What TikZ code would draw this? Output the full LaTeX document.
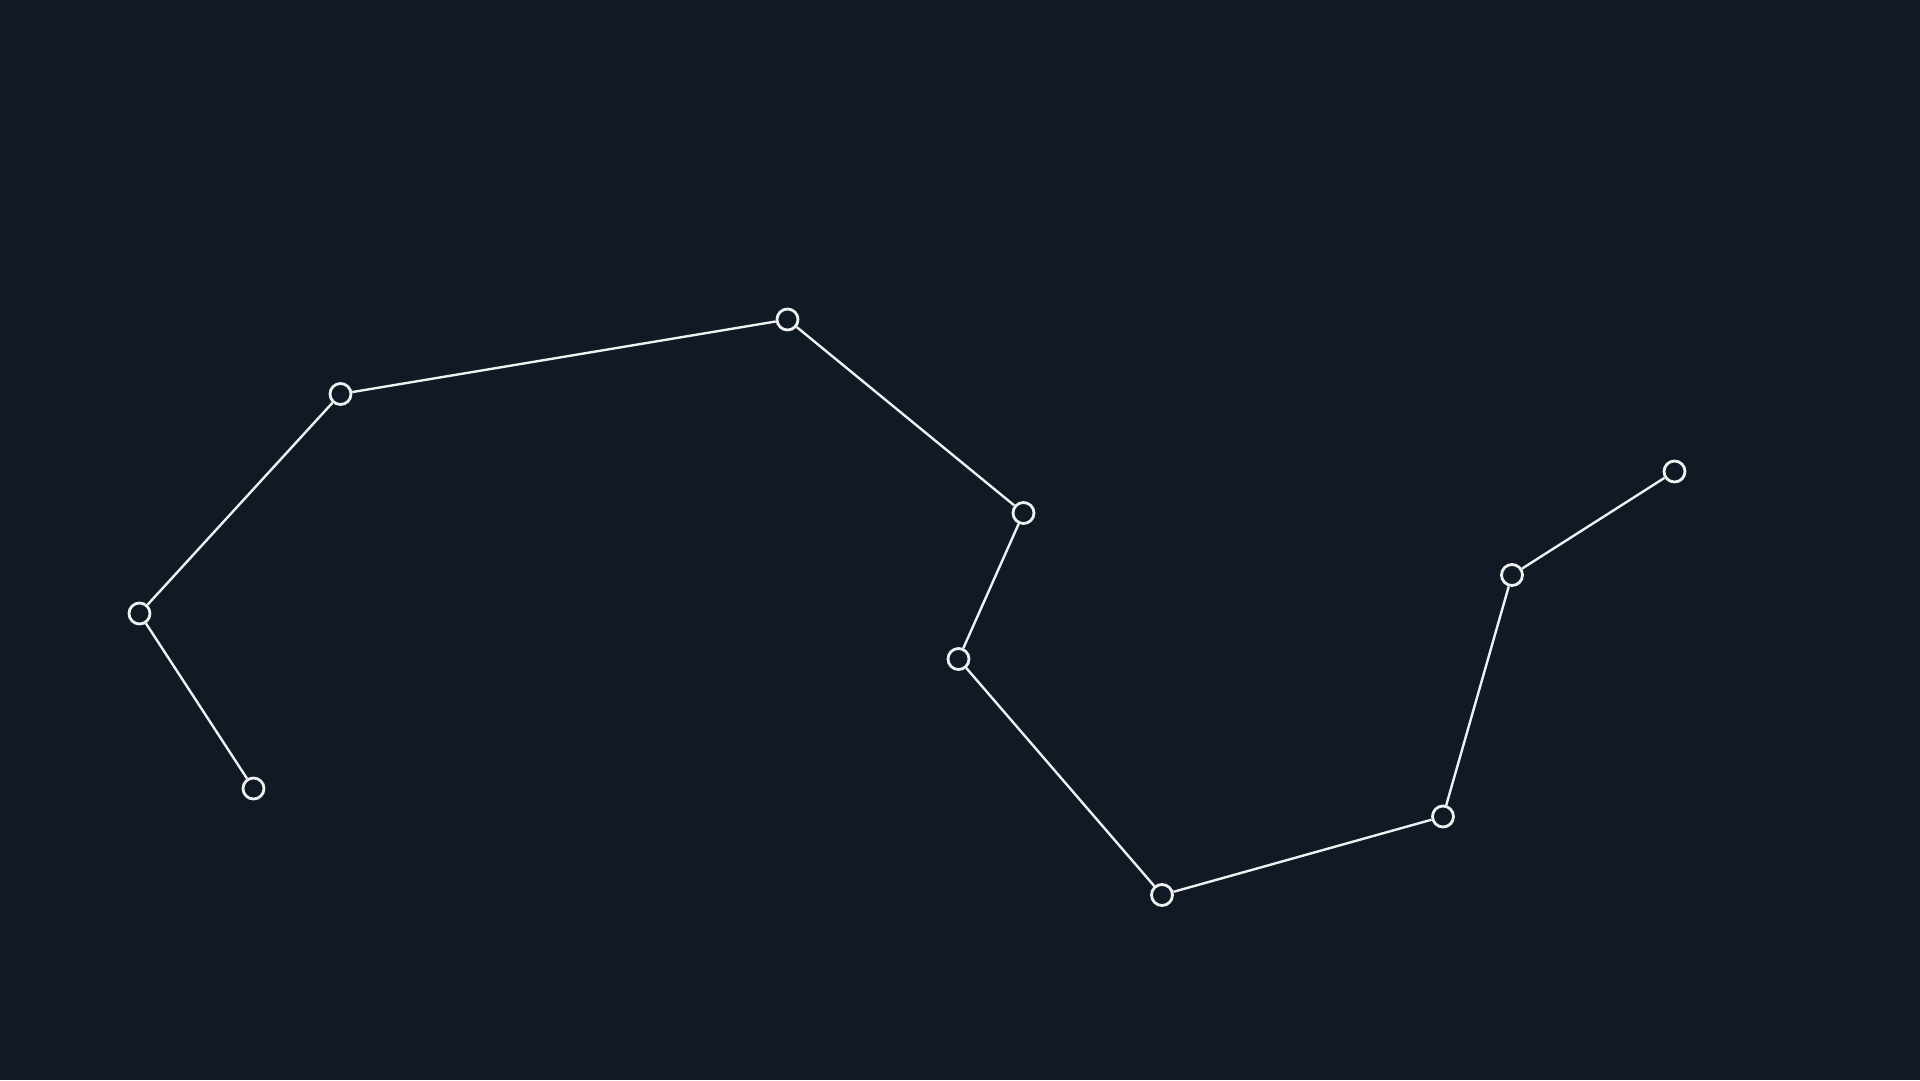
\documentclass[tikz,border=0pt]{standalone}
\usepackage{xcolor}
\definecolor{nightbg}{RGB}{17,25,36}
\definecolor{chalk}{RGB}{238,240,242}
\usepackage{tikz}
\usetikzlibrary{positioning}

\begin{document}
\begin{tikzpicture}[x=1pt, y=-1pt,
	star/.style={circle, draw=chalk, line width=2.8pt, fill=nightbg, minimum size=21pt, inner sep=0pt},
	link/.style={chalk, line width=2.4pt}]

\fill[nightbg] (0,0) rectangle (1920,1080); % background
\useasboundingbox (0,0) rectangle (1920,1080);

\foreach \n/\x/\y in {1/253.5/788.5, 2/139.5/613.5, 3/340.5/394, 4/787.5/319.5, 5/1023.5/513,
	6/958.5/659, 7/1162/895, 8/1443/816.5, 9/1512/575, 10/1674.5/471.5} {
	\node[star] (s\n) at (\x, \y) {}; % star
}

\foreach \a/\b in {1/2, 2/3, 3/4, 4/5, 5/6, 6/7, 7/8, 8/9, 9/10} {
	\draw[link] (s\a) -- (s\b); % constellation line
}

\end{tikzpicture}
\end{document}
